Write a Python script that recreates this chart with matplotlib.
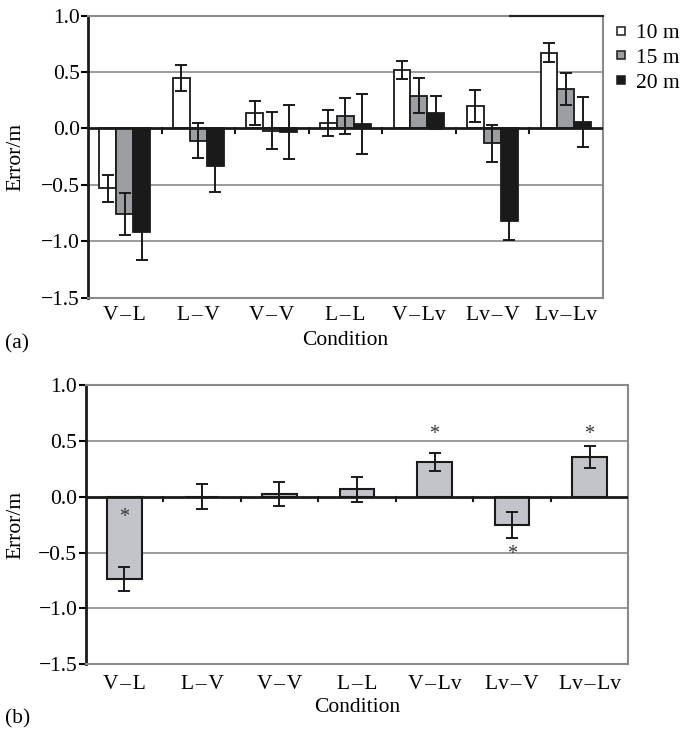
import numpy as np
import matplotlib
matplotlib.use("Agg")
import matplotlib.pyplot as plt
from matplotlib.lines import Line2D

plt.rcParams['font.family'] = ['Liberation Serif', 'DejaVu Serif']

HS = "\u200a"
conditions = ["V" + HS + "\u2013" + HS + "L", "L" + HS + "\u2013" + HS + "V",
              "V" + HS + "\u2013" + HS + "V", "L" + HS + "\u2013" + HS + "L",
              "V" + HS + "\u2013" + HS + "Lv", "Lv" + HS + "\u2013" + HS + "V",
              "Lv" + HS + "\u2013" + HS + "Lv"]
series_names = ["10 m", "15 m", "20 m"]

# Panel (a) means and error (SE)
m10 = [-0.53, 0.45, 0.14, 0.05, 0.52, 0.20, 0.67]
m15 = [-0.76, -0.11, -0.02, 0.11, 0.29, -0.13, 0.35]
m20 = [-0.92, -0.33, -0.03, 0.04, 0.14, -0.82, 0.06]
e10 = [0.12, 0.115, 0.105, 0.118, 0.077, 0.14, 0.084]
e15 = [0.185, 0.155, 0.165, 0.157, 0.155, 0.164, 0.143]
e20 = [0.25, 0.23, 0.24, 0.266, 0.145, 0.17, 0.222]

# Panel (b)
mb = [-0.74, 0.0, 0.025, 0.066, 0.31, -0.256, 0.358]
eb = [0.107, 0.11, 0.105, 0.112, 0.08, 0.117, 0.097]
sig_pos = [-0.19, None, None, None, 0.56, -0.52, 0.56]

yticks = [1.0, 0.5, 0.0, -0.5, -1.0, -1.5]
ytick_labels = ["1.0", "0.5", "0.0", "\u22120.5", "\u22121.0", "\u22121.5"]

W, H = 680, 731
fig = plt.figure(figsize=(W / 100, H / 100), dpi=100)

def frac(l, t, r, b):
    return [l / W, 1 - b / H, (r - l) / W, (b - t) / H]

axA = fig.add_axes(frac(88, 15.7, 602.7, 297.7))
axB = fig.add_axes(frac(85.7, 385, 628.3, 664.3))

fs = 15.5
grid_c = "#8a8a8a"

def style(ax, xpad, xl_y, yl_x):
    x = np.arange(len(conditions))
    ax.set_xlim(-0.5, len(conditions) - 0.5)
    ax.set_ylim(-1.5, 1.0)
    ax.set_yticks(yticks)
    ax.set_yticklabels(ytick_labels, fontsize=fs)
    ax.set_xticks(x)
    ax.set_xticklabels(conditions, fontsize=fs)
    ax.tick_params(axis='x', length=0, pad=xpad)
    ax.tick_params(axis='y', length=5, width=1.5, direction='out', pad=1)
    for yv in [0.5, -0.5, -1.0]:
        ax.axhline(yv, color=grid_c, lw=1.2, zorder=0)
    for s in ['top', 'right', 'bottom']:
        ax.spines[s].set_color("#8a8a8a")
        ax.spines[s].set_linewidth(1.5)
    ax.spines['left'].set_color("#1a1a1a")
    ax.spines['left'].set_linewidth(2.0)
    ax.axhline(0, color="#1a1a1a", lw=2.0, zorder=4)
    for b in np.arange(0.5, len(conditions) - 0.5, 1.0):
        ax.plot([b, b], [0, -0.04], color="#1a1a1a", lw=1.5, zorder=4,
                clip_on=False)
    ax.set_xlabel("Condition", fontsize=fs)
    ax.xaxis.set_label_coords(0.5, xl_y)
    ax.set_ylabel("Error/m", fontsize=fs)
    ax.yaxis.set_label_coords(yl_x, 0.5)

x = np.arange(len(conditions))
bw = 0.23
colors = ["white", "#9b9fa4", "#1a1a1a"]
for i, (m, e, c) in enumerate(zip([m10, m15, m20], [e10, e15, e20], colors)):
    axA.bar(x + (i - 1) * bw, m, width=bw, color=c, edgecolor="#1a1a1a",
            linewidth=1.3, yerr=e, capsize=4.5,
            error_kw=dict(ecolor="#1a1a1a", elinewidth=1.4, capthick=1.4),
            label=series_names[i], zorder=3)
style(axA, 6, -0.119, -0.122)
# darker segment of the top frame at the right end (as in the scan)
axA.plot([0.82, 1.0], [1.0, 1.0], transform=axA.transAxes, color="#222222",
         lw=1.5, clip_on=False, zorder=5)

handles = [Line2D([], [], marker='s', ls='none', mfc=c, mec="#1a1a1a",
                  ms=6, mew=1.1) for c in colors]
leg = axA.legend(handles, series_names, loc='upper left',
                 bbox_to_anchor=(1.028, 0.974), frameon=False,
                 fontsize=fs, handlelength=0.4, handletextpad=0.5,
                 labelspacing=0.22, borderaxespad=0, borderpad=0)

axB.bar(x, mb, width=0.44, color="#c2c4c9", edgecolor="#1a1a1a", linewidth=1.5,
        yerr=eb, capsize=4.5,
        error_kw=dict(ecolor="#1a1a1a", elinewidth=1.4, capthick=1.4),
        zorder=3)
for xi, sp in zip(x, sig_pos):
    if sp is not None:
        axB.text(xi, sp, "*", ha='center', va='center', fontsize=fs - 1,
                 color="#333333", zorder=5)
style(axB, 7.5, -0.119, -0.111)

fig.text(5 / W, 1 - 344 / H, "(a)", fontsize=fs, va='center', ha='left')
fig.text(5 / W, 1 - 719 / H, "(b)", fontsize=fs, va='center', ha='left')

fig.savefig("out.png", dpi=100)
